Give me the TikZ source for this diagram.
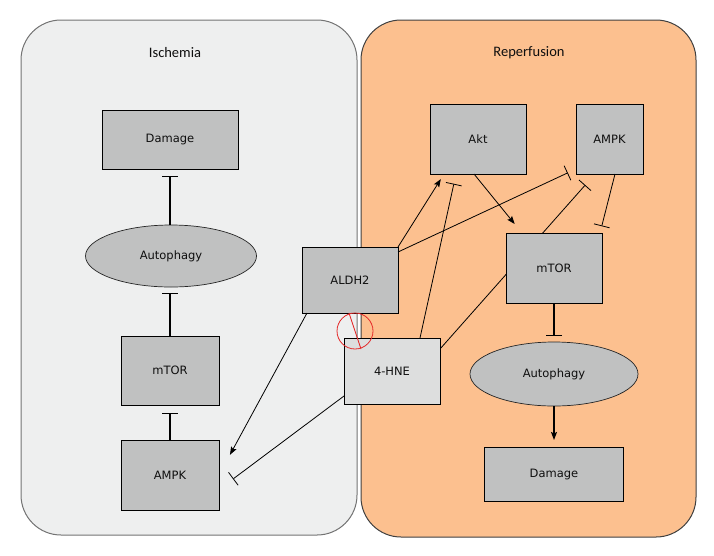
\documentclass[tikz,border=0pt]{standalone}
\usepackage{fontspec}
\setmainfont{DejaVu Sans}
\newfontfamily\titlefont{Carlito}
\usetikzlibrary{arrows.meta,shapes.geometric}
\pgfdeclarelayer{panels}
\pgfdeclarelayer{lines}
\pgfsetlayers{panels,lines,main}
\definecolor{ischfill}{RGB}{238,239,239}
\definecolor{repfill}{RGB}{252,192,143}
\definecolor{boxgray}{RGB}{192,193,193}
\definecolor{lightbox}{RGB}{221,222,222}
\definecolor{txt}{RGB}{15,15,15}
\definecolor{noRed}{RGB}{228,40,40}
\begin{document}
\begin{tikzpicture}[x=1pt,y=-1pt,
  every node/.style={font=\fontsize{11.5}{13}\selectfont, text=txt},
  box/.style={draw=black, line width=1pt, fill=boxgray, inner sep=0pt, outer sep=0pt},
  oval/.style={ellipse, draw=black!85, line width=0.7pt, fill=boxgray, inner sep=0pt, outer sep=0pt},
  panel/.style={rounded corners=40pt, line width=1pt},
  thickln/.style={line width=1.2pt},
  thinln/.style={line width=0.8pt},
  inh/.style={-{Bar[width=16pt]}},
  act/.style={-{Stealth[length=8pt,width=6pt,inset=1.5pt]}},
  ttl/.style={font=\titlefont\fontsize{14.5}{16}\selectfont}
]
\useasboundingbox (0,0) rectangle (714,555);
\begin{pgfonlayer}{panels}
  \draw[panel, fill=ischfill, draw=black!55] (21,20) rectangle (357,535);
  \draw[panel, fill=repfill, draw=black!75] (361,20) rectangle (696,537);
\end{pgfonlayer}

\node[ttl] (tIsch) at (175,53) {Ischemia};
\node[ttl] (tRep) at (529,53) {Reperfusion};

% Ischemia side
\node[box, minimum width=136, minimum height=59] (lDam) at (170,139.5) {Damage};
\node[oval, minimum width=171, minimum height=62] (lAuto) at (171,256) {Autophagy};
\node[box, minimum width=98, minimum height=69] (lmTOR) at (170,370.5) {mTOR};
\node[box, minimum width=98, minimum height=70] (lAMPK) at (170,475) {AMPK};

% Reperfusion side
\node[box, minimum width=96, minimum height=70] (Akt) at (478,139) {Akt};
\node[box, minimum width=67, minimum height=70] (rAMPK) at (609.5,139) {AMPK};
\node[box, minimum width=96, minimum height=70] (rmTOR) at (554,268) {mTOR};
\node[oval, minimum width=168, minimum height=64] (rAuto) at (554,374) {Autophagy};
\node[box, minimum width=139, minimum height=54] (rDam) at (554,474) {Damage};

% middle
\node[box, minimum width=96, minimum height=66] (ALDH2) at (350,280) {ALDH2};
\node[box, fill=lightbox, minimum width=96, minimum height=66] (HNE) at (392,371) {4-HNE};

% Ischemia connectors
\draw[thickln, inh, shorten >=8pt] (lAMPK.north) -- (lmTOR.south);
\draw[thickln, inh, shorten >=6pt] (lmTOR.north) -- (lmTOR.north |- lAuto.south);
\draw[thickln, inh, shorten >=7pt] (lAuto.north -| lmTOR.north) -- (lmTOR.north |- lDam.south);

% Reperfusion connectors
\draw[thickln, inh, shorten >=6pt] (rmTOR.south) -- (rAuto.north);
\draw[thickln, act, shorten >=7pt] (rAuto.south) -- (rDam.north);
\draw[thinln, act, shorten >=11.6pt] ([xshift=-4pt]Akt.south) -- ([xshift=-32pt]rmTOR.north);
\draw[thinln, act, shorten >=6pt] (ALDH2.north east) -- ([xshift=-34pt]Akt.south);
\draw[thinln, inh, shorten >=9pt] ([yshift=-5pt]ALDH2.north east) -- ([yshift=5pt]rAMPK.south west);
\draw[thinln, inh, shorten >=10pt] ([xshift=28pt]HNE.north) -- ([xshift=-22pt]Akt.south);
\begin{pgfonlayer}{lines}
  \draw[thinln, inh, shorten >=14.7pt] ([yshift=-11pt]HNE.north east) -- ([xshift=-14.5pt]rAMPK.south);
\end{pgfonlayer}
\draw[thinln, inh, shorten >=7pt] ([xshift=5.5pt]rAMPK.south) -- ([xshift=-2pt]rmTOR.north east);
\draw[thinln, act, shorten >=23pt] ([xshift=5pt]ALDH2.south west) -- (lAMPK.east);
\draw[thinln, inh, shorten >=17.5pt] ([yshift=8pt]HNE.south west) -- ([yshift=-14.5pt]lAMPK.east);

% ALDH2 -| 4-HNE blocked symbol
\node[circle, draw=noRed, line width=0.8pt, minimum size=36pt, inner sep=0pt] (noSym) at (355,331) {};
\draw[noRed, line width=0.9pt] ([xshift=-1pt]ALDH2.south) -- ([xshift=-31pt,yshift=-11pt]HNE.north);
\end{tikzpicture}
\end{document}
